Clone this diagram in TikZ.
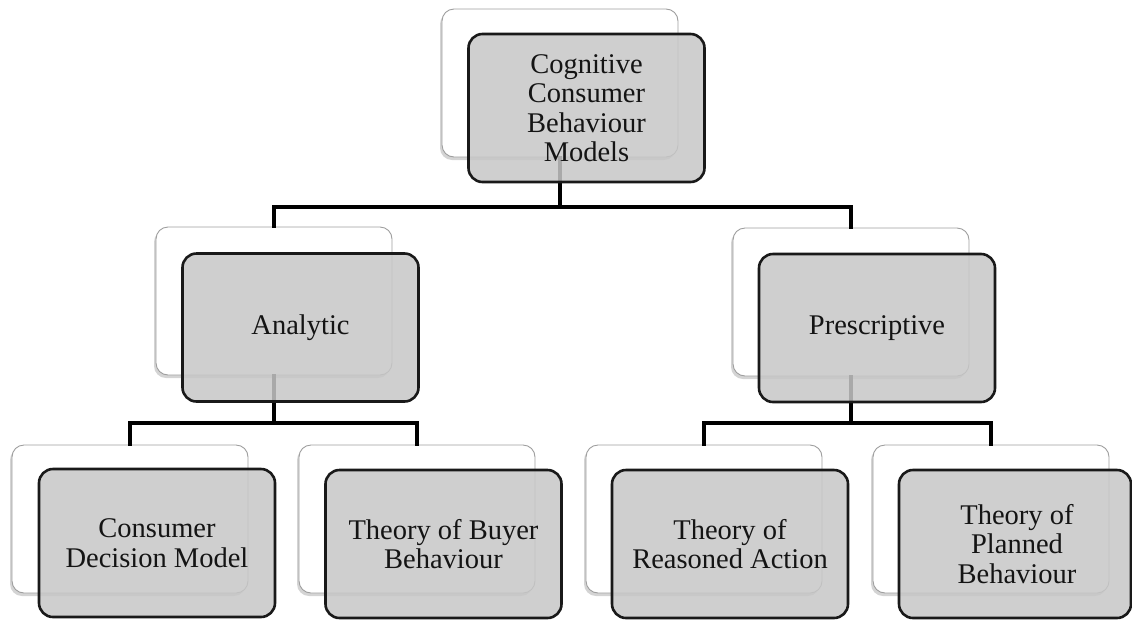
\documentclass[tikz,border=0pt]{standalone}
\usepackage{fontspec}
\setmainfont{Liberation Serif}
\usetikzlibrary{shadows}
\begin{document}
\begin{tikzpicture}[x=1pt,y=-1pt,
  backbox/.style={draw=black!38,line width=0.9pt,fill=white,rounded corners=12pt,
    minimum width=236pt,minimum height=148pt,inner sep=0pt,
    drop shadow={shadow xshift=-2pt,shadow yshift=-3pt,opacity=.28,fill=black!60}},
  frontbox/.style={draw=black!90,line width=2.6pt,fill=black!22,fill opacity=.85,
    text opacity=1,rounded corners=14pt,minimum width=236pt,minimum height=148pt,
    inner sep=0pt,align=center,text=black!92,
    font=\fontsize{28.5}{29.5}\selectfont},
  conn/.style={draw=black,line width=3.6pt,line join=miter,line cap=rect}]
\useasboundingbox (0,0) rectangle (1132,619);

% back cards
\node[backbox] (topB) at (560,83) {};
\node[backbox] (anaB) at (274,301) {};
\node[backbox] (preB) at (851,302) {};
\node[backbox] (cdmB) at (130,519) {};
\node[backbox] (tbbB) at (417,519) {};
\node[backbox] (traB) at (704,519) {};
\node[backbox] (tpbB) at (991,519) {};

% bus levels
\coordinate (bus1) at (0,207);
\coordinate (bus2) at (0,423);

% connectors
\draw[conn] (topB.south) -- (topB.south |- bus1);
\draw[conn] (anaB.north) -- (anaB.north |- bus1) -- (preB.north |- bus1) -- (preB.north);
\draw[conn] (anaB.south) -- (anaB.south |- bus2);
\draw[conn] (cdmB.north) -- (cdmB.north |- bus2) -- (tbbB.north |- bus2) -- (tbbB.north);
\draw[conn] (preB.south) -- (preB.south |- bus2);
\draw[conn] (traB.north) -- (traB.north |- bus2) -- (tpbB.north |- bus2) -- (tpbB.north);

% front cards with the labels
\node[frontbox] (topF) at (586.5,108) {Cognitive\\Consumer\\Behaviour\\Models};
\node[frontbox] (anaF) at (300.5,327.5) {Analytic};
\node[frontbox] (preF) at (877,328) {Prescriptive};
\node[frontbox] (cdmF) at (157,543) {Consumer\\Decision Model};
\node[frontbox] (tbbF) at (443.5,544) {Theory of Buyer\\Behaviour};
\node[frontbox] (traF) at (730,544) {Theory of\\Reasoned Action};
\node[frontbox,minimum width=232pt] (tpbF) at (1015,544) {\hspace*{4pt}Theory of\\\hspace*{4pt}Planned\\\hspace*{4pt}Behaviour};
\end{tikzpicture}
\end{document}
